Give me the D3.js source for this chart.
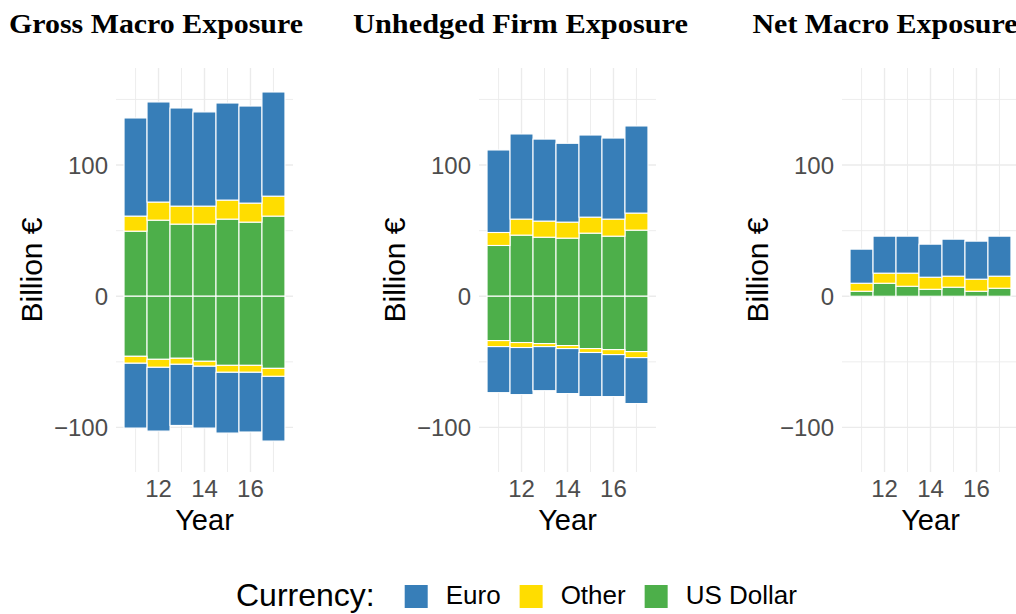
<!DOCTYPE html>
<html>
<head>
<meta charset="utf-8">
<script src="https://cdn.jsdelivr.net/npm/d3@7"></script>
<style>
  body { margin: 0; background: #fff; }
</style>
</head>
<body>
<div id="chart"></div>
<script>
let years = [11, 12, 13, 14, 15, 16, 17]
let currencies = ['Euro', 'Other', 'US Dollar']
let colors = ['#377eb8', '#ffdd00', '#4daf4a']
let panelTitles = ['Gross Macro Exposure', 'Unhedged Firm Exposure', 'Net Macro Exposure']
let yMajor = [-100, 0, 100]
let yMinor = [-50, 50, 150]
let xMajor = [12, 14, 16]
let xMinor = [11, 13, 15, 17]

// gross macro exposure (billion euro)
let grossUsdPos = [49.6, 58.0, 55.0, 55.0, 58.8, 56.5, 61.1]
let grossOtherPos = [11.5, 13.8, 13.7, 13.7, 14.5, 14.5, 15.2]
let grossEuroPos = [74.8, 76.3, 74.8, 71.8, 74.0, 74.0, 79.4]
let grossUsdNeg = [-45.8, -48.1, -47.3, -49.6, -52.7, -52.7, -55.0]
let grossOtherNeg = [-5.3, -6.1, -4.6, -3.8, -5.3, -5.3, -6.1]
let grossEuroNeg = [-49.4, -48.6, -46.6, -47.1, -46.3, -45.5, -49.3]

// unhedged firm exposure
let unhedgedUsdPos = [38.7, 46.6, 45.0, 44.3, 48.1, 45.8, 50.4]
let unhedgedOtherPos = [9.9, 12.2, 12.3, 12.2, 12.2, 13.0, 13.0]
let unhedgedEuroPos = [62.9, 64.9, 62.5, 60.1, 62.6, 61.8, 66.4]
let unhedgedUsdNeg = [-33.8, -35.3, -36.1, -37.6, -39.9, -40.7, -42.2]
let unhedgedOtherNeg = [-4.6, -3.8, -2.3, -2.3, -3.0, -3.8, -4.6]
let unhedgedEuroNeg = [-35.1, -35.9, -33.6, -34.3, -33.6, -32.0, -35.0]

// net macro exposure
let netUsd = [3.8, 9.9, 7.6, 5.3, 6.9, 3.8, 6.1]
let netOther = [6.1, 7.7, 10.0, 9.2, 8.4, 9.2, 9.2]
let netEuro = [26.0, 28.2, 28.2, 25.2, 28.2, 29.0, 30.5]

let width = 1016
let height = 614
let colWidth = 363
let panel = { left: 116, top: 68, width: 177, height: 404 }
// title widths as in the original (condensed bold serif)
let titleWidths = [294, 335, 265]

let sans = 'Liberation Sans, Arial, sans-serif'
let serif = 'Liberation Serif, Times New Roman, serif'

let svg = d3.select('#chart').append('svg')
  .attr('width', width)
  .attr('height', height)

let xScale = d3.scaleLinear()
  .domain([10.15, 17.85])
  .range([0, panel.width])

let yScale = d3.scaleLinear()
  .domain([-134, 174])
  .range([panel.height, 0])

let colorScale = d3.scaleOrdinal().domain(currencies).range(colors)

// each key: which currency it belongs to
let keys = ['usdPos', 'otherPos', 'euroPos', 'usdNeg', 'otherNeg', 'euroNeg']
let keyCurrency = {
  usdPos: 'US Dollar', otherPos: 'Other', euroPos: 'Euro',
  usdNeg: 'US Dollar', otherNeg: 'Other', euroNeg: 'Euro'
}

function makeRows(usdPos, otherPos, euroPos, usdNeg, otherNeg, euroNeg) {
  return years.map((year, i) => ({
    year: year,
    usdPos: usdPos[i],
    otherPos: otherPos[i],
    euroPos: euroPos[i],
    usdNeg: usdNeg ? usdNeg[i] : 0,
    otherNeg: otherNeg ? otherNeg[i] : 0,
    euroNeg: euroNeg ? euroNeg[i] : 0
  }))
}

let panels = [
  makeRows(grossUsdPos, grossOtherPos, grossEuroPos, grossUsdNeg, grossOtherNeg, grossEuroNeg),
  makeRows(unhedgedUsdPos, unhedgedOtherPos, unhedgedEuroPos, unhedgedUsdNeg, unhedgedOtherNeg, unhedgedEuroNeg),
  makeRows(netUsd, netOther, netEuro)
]

let stack = d3.stack()
  .keys(keys)
  .offset(d3.stackOffsetDiverging)

panels.forEach((rows, p) => {
  let col = svg.append('g')
    .attr('transform', `translate(${p * colWidth},0)`)

  // title
  col.append('text')
    .attr('x', 156 + p * 1.5)
    .attr('y', 33)
    .attr('text-anchor', 'middle')
    .attr('font-family', serif)
    .attr('font-weight', 'bold')
    .attr('font-size', 28)
    .attr('textLength', titleWidths[p])
    .attr('lengthAdjust', 'spacingAndGlyphs')
    .attr('fill', '#000')
    .text(panelTitles[p])

  let holder = col.append('g')
    .attr('transform', `translate(${panel.left},${panel.top})`)

  // grid
  holder.selectAll('.y-minor')
    .data(yMinor)
    .enter().append('line')
    .attr('x1', 0).attr('x2', panel.width)
    .attr('y1', d => yScale(d)).attr('y2', d => yScale(d))
    .attr('stroke', '#ebebeb').attr('stroke-width', 0.9)

  holder.selectAll('.x-minor')
    .data(xMinor)
    .enter().append('line')
    .attr('y1', 0).attr('y2', panel.height)
    .attr('x1', d => xScale(d)).attr('x2', d => xScale(d))
    .attr('stroke', '#ebebeb').attr('stroke-width', 0.9)

  holder.selectAll('.y-major')
    .data(yMajor)
    .enter().append('line')
    .attr('x1', 0).attr('x2', panel.width)
    .attr('y1', d => yScale(d)).attr('y2', d => yScale(d))
    .attr('stroke', '#ebebeb').attr('stroke-width', 1.4)

  holder.selectAll('.x-major')
    .data(xMajor)
    .enter().append('line')
    .attr('y1', 0).attr('y2', panel.height)
    .attr('x1', d => xScale(d)).attr('x2', d => xScale(d))
    .attr('stroke', '#ebebeb').attr('stroke-width', 1.4)

  // bars
  let series = stack(rows)
  holder.selectAll('.layer')
    .data(series)
    .enter().append('g')
    .attr('fill', d => colorScale(keyCurrency[d.key]))
    .selectAll('rect')
    .data(d => d.filter(s => s[1] !== s[0]))
    .enter().append('rect')
    .attr('x', d => xScale(d.data.year - 0.5))
    .attr('width', d => xScale(d.data.year + 0.5) - xScale(d.data.year - 0.5))
    .attr('y', d => yScale(Math.max(d[0], d[1])))
    .attr('height', d => Math.abs(yScale(d[0]) - yScale(d[1])))
    .attr('stroke', '#fff')
    .attr('stroke-width', 1.1)

  // y tick labels
  holder.selectAll('.y-label')
    .data(yMajor)
    .enter().append('text')
    .attr('x', -8)
    .attr('y', d => yScale(d))
    .attr('dy', '0.36em')
    .attr('text-anchor', 'end')
    .attr('font-family', sans)
    .attr('font-size', 24)
    .attr('fill', '#4d4d4d')
    .text(d => d < 0 ? '\u2212' + Math.abs(d) : d)

  // x tick labels
  holder.selectAll('.x-label')
    .data(xMajor)
    .enter().append('text')
    .attr('x', d => xScale(d))
    .attr('y', panel.height + 25)
    .attr('text-anchor', 'middle')
    .attr('font-family', sans)
    .attr('font-size', 24)
    .attr('fill', '#4d4d4d')
    .text(d => d)

  // axis titles
  holder.append('text')
    .attr('x', panel.width / 2)
    .attr('y', panel.height + 58)
    .attr('text-anchor', 'middle')
    .attr('font-family', sans)
    .attr('font-size', 29)
    .attr('fill', '#000')
    .text('Year')

  holder.append('text')
    .attr('transform', `translate(${31 - panel.left},${panel.height / 2}) rotate(-90)`)
    .attr('dy', '0.36em')
    .attr('text-anchor', 'middle')
    .attr('font-family', sans)
    .attr('font-size', 30)
    .attr('fill', '#000')
    .text('Billion €')
})

// legend
let legend = svg.append('g')
let lx = 236
let legendTitle = legend.append('text')
  .attr('x', lx)
  .attr('y', 606)
  .attr('font-family', sans)
  .attr('font-size', 32)
  .attr('fill', '#000')
  .text('Currency:')
lx += legendTitle.node().getComputedTextLength() + 30

currencies.forEach(c => {
  legend.append('rect')
    .attr('x', lx)
    .attr('y', 585)
    .attr('width', 23)
    .attr('height', 23)
    .attr('fill', colorScale(c))
  lx += 23 + 18
  let t = legend.append('text')
    .attr('x', lx)
    .attr('y', 604)
    .attr('font-family', sans)
    .attr('font-size', 26)
    .attr('fill', '#000')
    .text(c)
  lx += t.node().getComputedTextLength() + 19
})
</script>
</body>
</html>
